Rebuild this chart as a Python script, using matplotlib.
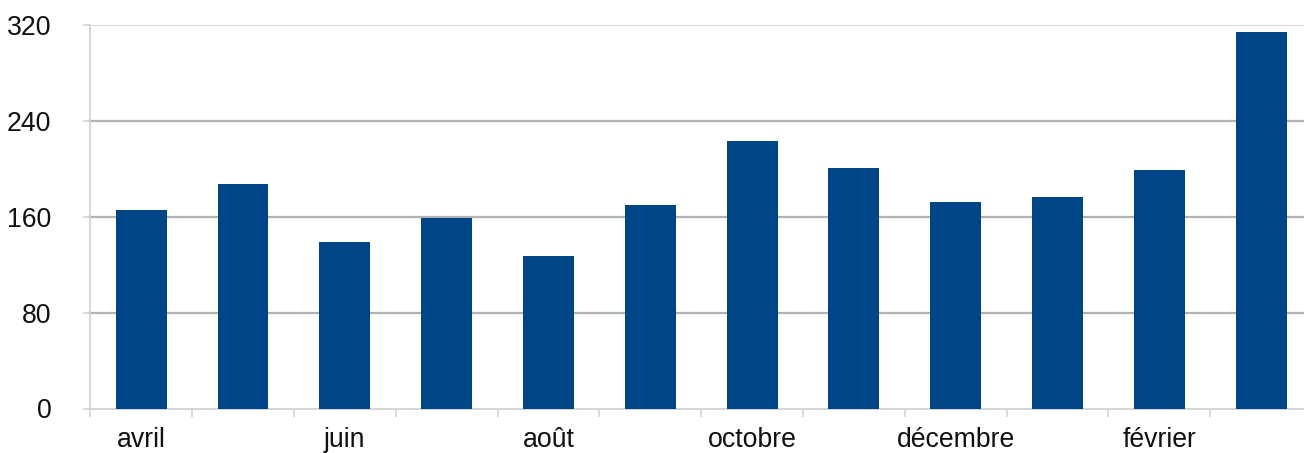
import matplotlib
matplotlib.use("Agg")
import matplotlib.pyplot as plt
import numpy as np

months = ["avril", "mai", "juin", "juillet", "août", "septembre", "octobre",
          "novembre", "décembre", "janvier", "février", "mars"]
values = [165.4, 187.3, 138.9, 158.8, 127.2, 169.8, 223.2, 200.7, 172.3, 176.5, 199.0, 314.2]
shown_labels = ["avril", "", "juin", "", "août", "", "octobre", "", "décembre", "", "février", ""]
yticks = [0, 80, 160, 240, 320]

plt.rcParams['font.family'] = ['Liberation Sans', 'DejaVu Sans']

fig = plt.figure(figsize=(13.04, 4.53), dpi=100)
W, H = 1304, 453
x0, x1 = 90.3, 1312.0
y0, y1 = 408.5, 25.0
ax = fig.add_axes([x0 / W, (H - y0) / H, (x1 - x0) / W, (y0 - y1) / H])

x = np.arange(len(months))
ax.bar(x, values, width=0.5, color="#004586", zorder=3)

ax.set_xlim(-0.5, len(months) - 0.5)
ax.set_ylim(0, 320)

for v in yticks[1:-1]:
    ax.axhline(v, color="#b3b3b3", lw=1.6, zorder=1)
ax.axhline(320, color="#d9d9d9", lw=1.4, zorder=1)

for s in ["top", "right"]:
    ax.spines[s].set_visible(False)
for s in ["left", "bottom"]:
    ax.spines[s].set_color("#cfcfcf")
    ax.spines[s].set_linewidth(1.2)

ax.set_yticks(yticks)
ax.set_yticklabels([str(v) for v in yticks])
ax.tick_params(axis="y", length=5, width=1.1, color="#cfcfcf", pad=23, labelsize=19.2, labelcolor="#111111")

ax.set_xticks(np.arange(-0.5, len(months) + 0.5, 1.0))
ax.set_xticklabels([])
ax.tick_params(axis="x", which="major", length=6, width=1.1, color="#cfcfcf")
ax.set_xticks(x, minor=True)
ax.set_xticklabels(shown_labels, minor=True)
ax.tick_params(axis="x", which="minor", length=0, pad=13, labelsize=19.2, labelcolor="#111111")

fig.savefig("out.png", dpi=100)
